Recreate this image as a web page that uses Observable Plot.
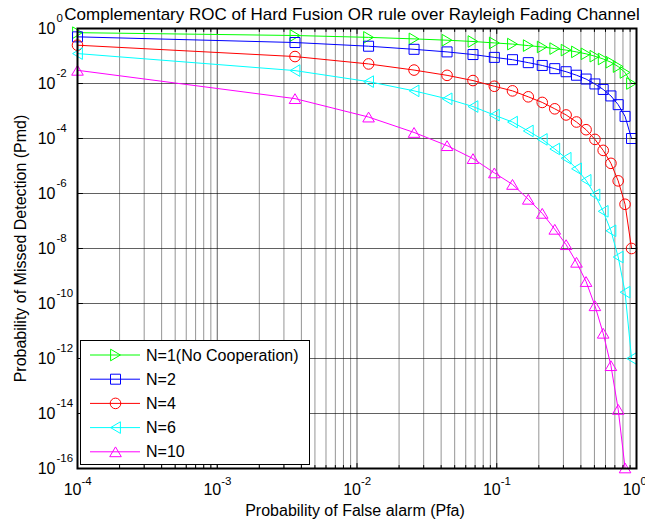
<!DOCTYPE html>
<html>
<head>
<meta charset="utf-8">
<script src="https://cdn.jsdelivr.net/npm/d3@7"></script>
<script src="https://cdn.jsdelivr.net/npm/@observablehq/plot@0.6"></script>
<style>
  body { margin: 0; background: #fff; }
  #chart svg { display: block; }
</style>
</head>
<body>
<div id="chart"></div>
<script>
// Per-node false-alarm probabilities (x) shared by all curves
const pfa = [0.0001, 0.0036, 0.0121, 0.0256, 0.0441, 0.0676, 0.0961, 0.1296, 0.1681, 0.2116,
             0.2601, 0.3136, 0.3721, 0.4356, 0.5041, 0.5776, 0.6561, 0.7396, 0.8281, 0.9216];

// Probability of missed detection for each number of cooperating users
const pmdN1 = [0.705, 0.556, 0.476, 0.419, 0.375, 0.337, 0.299, 0.271, 0.239, 0.213,
               0.186, 0.164, 0.141, 0.120, 0.0982, 0.0780, 0.0594, 0.0412, 0.0252, 0.0100];
const pmdN2 = [0.497, 0.309, 0.227, 0.175, 0.141, 0.113, 0.0891, 0.0735, 0.0573, 0.0453,
               0.0347, 0.0268, 0.0200, 0.0145, 0.00964, 0.00608, 0.00353, 0.00170, 0.000637, 0.0001];
const pmdN4 = [0.247, 0.0955, 0.0515, 0.0308, 0.0198, 0.0128, 0.00794, 0.0054, 0.00328, 0.00205,
               0.0012, 0.000718, 0.000398, 0.000209, 9.29e-5, 3.70e-5, 1.25e-5, 2.88e-6, 4.06e-7, 1e-8];
const pmdN6 = [0.1225, 0.0295, 0.0117, 0.0054, 0.00278, 0.00145, 0.000708, 0.000396, 0.000188, 9.29e-5,
               4.17e-5, 1.92e-5, 7.94e-6, 3.02e-6, 8.95e-7, 2.25e-7, 4.41e-8, 4.9e-9, 2.58e-10, 1e-12];
const pmdN10 = [0.0302, 0.00282, 0.000603, 0.000166, 5.5e-5, 1.86e-5, 5.62e-6, 2.14e-6, 6.17e-7, 1.9e-7,
                5.0e-8, 1.38e-8, 3.16e-9, 6.3e-10, 8.3e-11, 8.3e-12, 5.5e-13, 1.41e-14, 1.05e-16];

const seriesNames = ["N=1(No Cooperation)", "N=2", "N=4", "N=6", "N=10"];
const seriesColors = ["#00ff00", "#0000ff", "#ff0000", "#00ffff", "#ff00ff"];
const seriesMarkers = ["right", "square", "circle", "left", "up"];
const seriesValues = [pmdN1, pmdN2, pmdN4, pmdN6, pmdN10];

// Axis ticks and their labels (base 10 with a raised exponent)
const xTicks = [1e-4, 1e-3, 1e-2, 1e-1, 1];
const xTickExp = ["-4", "-3", "-2", "-1", "0"];
const yTicks = [1, 1e-2, 1e-4, 1e-6, 1e-8, 1e-10, 1e-12, 1e-14, 1e-16];
const yTickExp = ["0", "-2", "-4", "-6", "-8", "-10", "-12", "-14", "-16"];

const titleText = "Complementary ROC of Hard Fusion OR rule over Rayleigh Fading Channel";
const xLabel = "Probability of False alarm (Pfa)";
const yLabel = "Probability of Missed Detection (Pmd)";

// Minor decade positions (2..9 × 10^k) for the vertical grid
const xMinor = d3.scaleLog().domain([1e-4, 1]).ticks().filter(v => !xTicks.some(t => Math.abs(t - v) / t < 1e-9));

// Open marker outlines
function markerShape(kind) {
  return {
    draw(ctx, size) {
      const r = Math.sqrt(size / Math.PI);
      const b = r * 1.16, h = r * 0.98;
      if (kind === "right") { ctx.moveTo(-h, -b); ctx.lineTo(h, 0); ctx.lineTo(-h, b); ctx.closePath(); }
      else if (kind === "left") { ctx.moveTo(h, -b); ctx.lineTo(-h, 0); ctx.lineTo(h, b); ctx.closePath(); }
      else if (kind === "up") { ctx.moveTo(-b, h); ctx.lineTo(0, -h); ctx.lineTo(b, h); ctx.closePath(); }
      else if (kind === "square") { ctx.rect(-r, -r, 2 * r, 2 * r); }
      else { const c = r * 1.06; ctx.moveTo(c, 0); ctx.arc(0, 0, c, 0, 2 * Math.PI); }
    }
  };
}

const series = seriesNames.map((name, i) => ({
  name,
  color: seriesColors[i],
  symbol: markerShape(seriesMarkers[i]),
  rows: seriesValues[i].map((v, k) => ({pfa: pfa[k], pmd: v}))
}));

const tickShape = {draw(ctx, l) { ctx.moveTo(0, 0); ctx.lineTo(0, -l); }};
const font = "'Liberation Sans', Arial, Helvetica, sans-serif";

const curveMarks = series.flatMap(s => [
  Plot.line(s.rows, {x: "pfa", y: "pmd", stroke: s.color, strokeWidth: 1}),
  Plot.dot(s.rows, {x: "pfa", y: "pmd", stroke: s.color, fill: "none", strokeWidth: 1, r: 5, symbol: s.symbol})
]);

const tickVec = (data, anchor, rotate, length) =>
  Plot.vector(data, {
    ...(anchor === "top" || anchor === "bottom" ? {x: d => d} : {y: d => d}),
    frameAnchor: anchor, rotate, length, anchor: "start", shape: tickShape,
    stroke: "#000", strokeWidth: 1
  });

const chart = Plot.plot({
  width: 645,
  height: 527,
  marginLeft: 77,
  marginRight: 9,
  marginTop: 28,
  marginBottom: 59,
  style: {fontFamily: font, background: "#fff", color: "#000"},
  x: {type: "log", domain: [1e-4, 1], axis: null},
  y: {type: "log", domain: [1e-16, 1], axis: null},
  marks: [
    Plot.ruleX(xMinor, {stroke: "#000", strokeOpacity: 0.42}),
    Plot.ruleX(xTicks, {stroke: "#000", strokeOpacity: 0.62}),
    Plot.ruleY(yTicks, {stroke: "#000", strokeOpacity: 0.62}),
    ...curveMarks,
    tickVec(xTicks, "bottom", 0, 5),
    tickVec(xMinor, "bottom", 0, 3),
    tickVec(xTicks, "top", 180, 5),
    tickVec(xMinor, "top", 180, 3),
    tickVec(yTicks, "left", 90, 5),
    tickVec(yTicks, "right", -90, 5),
    Plot.frame({stroke: "#000", strokeWidth: 2}),
    // x tick labels
    Plot.text(xTicks, {x: d => d, text: () => "10", frameAnchor: "bottom", dy: 26, dx: 4, textAnchor: "end", fontSize: 16}),
    Plot.text(xTicks, {x: d => d, text: (d, i) => xTickExp[i], frameAnchor: "bottom", dy: 16, dx: 4, textAnchor: "start", fontSize: 11.5}),
    // y tick labels
    Plot.text(yTicks, {y: d => d, text: () => "10", frameAnchor: "left", dx: -22, textAnchor: "end", fontSize: 16}),
    Plot.text(yTicks, {y: d => d, text: (d, i) => yTickExp[i], frameAnchor: "left", dx: -21, dy: -10, textAnchor: "start", fontSize: 11.5}),
    // titles
    Plot.text([titleText], {text: d => d, frameAnchor: "top", dy: -21, dx: -5, textAnchor: "middle", fontSize: 17}),
    Plot.text([xLabel], {text: d => d, frameAnchor: "bottom", dy: 47, dx: -2, textAnchor: "middle", fontSize: 16}),
    Plot.text([yLabel], {text: d => d, frameAnchor: "left", dx: -57, rotate: -90, textAnchor: "middle", fontSize: 16})
  ]
});

document.getElementById("chart").appendChild(chart);

// Legend box in the lower-left corner of the axes
const svg = d3.select(chart);
const lg = svg.append("g")
  .style("font-family", font).style("font-size", "16px").style("text-anchor", "start");
lg.append("rect")
  .attr("x", 80.5).attr("y", 340.5).attr("width", 229).attr("height", 124)
  .style("fill", "#fff").style("stroke", "#000").style("stroke-width", "1px");
series.forEach((s, i) => {
  const y = 355 + i * 24.2;
  lg.append("line").attr("x1", 90).attr("x2", 140).attr("y1", y).attr("y2", y)
    .style("stroke", s.color).style("stroke-width", "1px");
  lg.append("path").attr("d", d3.symbol(s.symbol, Math.PI * 25)())
    .attr("transform", `translate(115.5,${y})`)
    .style("fill", "none").style("stroke", s.color).style("stroke-width", "1px");
  lg.append("text").attr("x", 146).attr("y", y).attr("dy", "0.35em")
    .style("text-anchor", "start").style("fill", "#000").text(s.name);
});
</script>
</body>
</html>
